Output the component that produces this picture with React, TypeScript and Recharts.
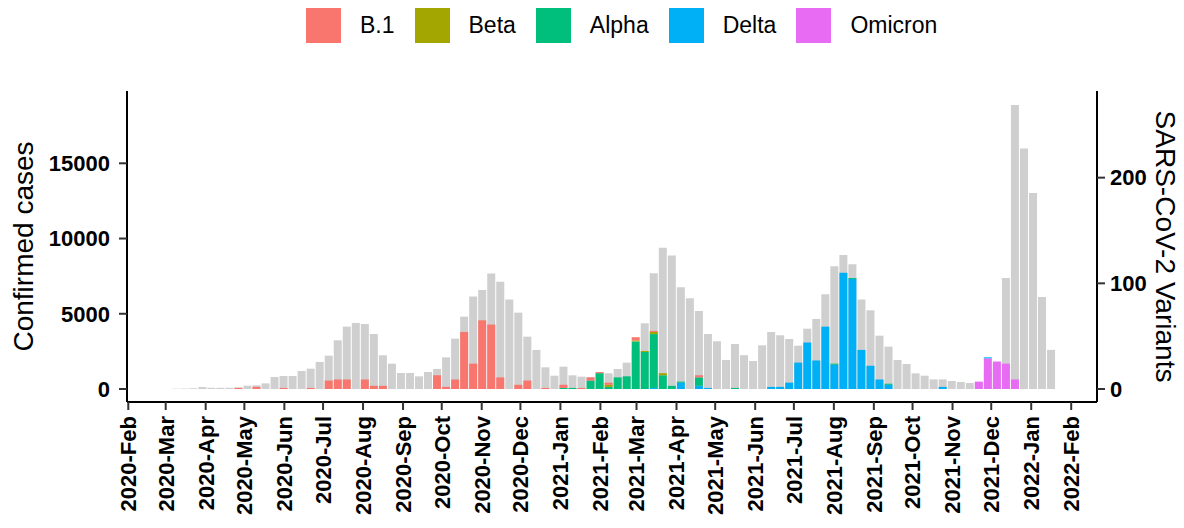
import React from 'react'
import { ComposedChart, Bar, XAxis, YAxis } from 'recharts'

// weekly bars, first week starts 2020-03-08
const firstWeek = '2020-03-08'

const cases = [
  20, 30, 50, 130, 80, 80, 80, 110, 220, 245,
  375, 800, 865, 865, 1200, 1350, 1800, 2215, 3235, 4145,
  4390, 4320, 3655, 2240, 1685, 1065, 1065, 840, 1130, 1330,
  2105, 3345, 4810, 6140, 6580, 7670, 7135, 5940, 5075, 3480,
  2595, 1440, 885, 1485, 910, 820, 800, 1100, 1043, 1330,
  1750, 2600, 4365, 7690, 9395, 8865, 6760, 6030, 5185, 3655,
  3170, 1930, 2990, 2250, 1860, 2905, 3790, 3570, 3325, 2880,
  4010, 4655, 6295, 8160, 8910, 8290, 5940, 5230, 3545, 2815,
  1930, 1660, 1040, 885, 640, 640, 530, 465, 400, 450,
  1200, 1600, 7380, 18880, 15980, 13030, 6115, 2600,
]

const b1 = [
  0, 0, 0, 0, 0, 0, 0, 1, 0, 2,
  0, 0, 1, 0, 0, 1, 0, 8, 9, 9,
  0, 9, 3, 3, 0, 0, 0, 0, 0, 13,
  2, 9, 54, 24, 65, 61, 11, 0, 4, 8,
  0, 1, 0, 3, 0, 1, 3, 1, 2, 0,
  0, 3, 0, 1, 0, 0, 0, 0, 2, 0,
  0, 0, 0, 0, 0, 0, 0, 0, 0, 0,
  0, 0, 0, 0, 0, 0, 0, 0, 0, 0,
  0, 0, 0, 0, 0, 0, 0, 0, 0, 0,
  0, 0, 0, 0, 0, 0, 0, 0,
]

const beta = [
  0, 0, 0, 0, 0, 0, 0, 0, 0, 0,
  0, 0, 0, 0, 0, 0, 0, 0, 0, 0,
  0, 0, 0, 0, 0, 0, 0, 0, 0, 0,
  0, 0, 0, 0, 0, 0, 0, 0, 0, 0,
  0, 0, 0, 0, 0, 0, 0, 0, 2, 0,
  0, 1, 1, 2, 2, 0, 0, 0, 0, 0,
  0, 0, 0, 0, 0, 0, 0, 0, 0, 0,
  0, 0, 0, 0, 0, 0, 0, 0, 0, 0,
  0, 0, 0, 0, 0, 0, 0, 0, 0, 0,
  0, 0, 0, 0, 0, 0, 0, 0,
]

const alpha = [
  0, 0, 0, 0, 0, 0, 0, 0, 0, 0,
  0, 0, 0, 0, 0, 0, 0, 0, 0, 0,
  0, 0, 0, 0, 0, 0, 0, 0, 0, 0,
  0, 0, 0, 0, 0, 0, 0, 0, 0, 0,
  0, 0, 0, 1, 1, 0, 8, 15, 2, 11,
  12, 45, 35, 51, 13, 3, 1, 0, 8, 0,
  0, 0, 1, 0, 0, 0, 0, 0, 0, 0,
  0, 0, 0, 1, 0, 1, 0, 0, 0, 1,
  0, 0, 0, 0, 0, 0, 0, 0, 0, 0,
  0, 0, 0, 0, 0, 0, 0, 0,
]

const delta = [
  0, 0, 0, 0, 0, 0, 0, 0, 0, 0,
  0, 0, 0, 0, 0, 0, 0, 0, 0, 0,
  0, 0, 0, 0, 0, 0, 0, 0, 0, 0,
  0, 0, 0, 0, 0, 0, 0, 0, 0, 0,
  0, 0, 0, 0, 0, 0, 0, 0, 0, 0,
  0, 0, 0, 1, 0, 0, 6, 0, 3, 1,
  0, 0, 0, 0, 0, 0, 2, 2, 6, 25,
  44, 27, 59, 23, 110, 104, 37, 22, 9, 4,
  0, 0, 0, 0, 0, 2, 0, 0, 0, 0,
  1, 0, 0, 0, 0, 0, 0, 0,
]

const omicron = [
  0, 0, 0, 0, 0, 0, 0, 0, 0, 0,
  0, 0, 0, 0, 0, 0, 0, 0, 0, 0,
  0, 0, 0, 0, 0, 0, 0, 0, 0, 0,
  0, 0, 0, 0, 0, 0, 0, 0, 0, 0,
  0, 0, 0, 0, 0, 0, 0, 0, 0, 0,
  0, 0, 0, 0, 0, 0, 0, 0, 0, 0,
  0, 0, 0, 0, 0, 0, 0, 0, 0, 0,
  0, 0, 0, 0, 0, 0, 0, 0, 0, 0,
  0, 0, 0, 0, 0, 0, 0, 0, 0, 7,
  29, 26, 24, 9, 0, 0, 0, 0,
]

const monthTicks = [
  '2020-02', '2020-03', '2020-04', '2020-05', '2020-06', '2020-07', '2020-08',
  '2020-09', '2020-10', '2020-11', '2020-12', '2021-01', '2021-02', '2021-03',
  '2021-04', '2021-05', '2021-06', '2021-07', '2021-08', '2021-09', '2021-10',
  '2021-11', '2021-12', '2022-01', '2022-02',
]
const monthNames = ['Jan', 'Feb', 'Mar', 'Apr', 'May', 'Jun', 'Jul', 'Aug', 'Sep', 'Oct', 'Nov', 'Dec']

const variants = [
  { key: 'b1', name: 'B.1', color: '#F8766D' },
  { key: 'beta', name: 'Beta', color: '#A3A500' },
  { key: 'alpha', name: 'Alpha', color: '#00BF7D' },
  { key: 'delta', name: 'Delta', color: '#00B0F6' },
  { key: 'omicron', name: 'Omicron', color: '#E76BF3' },
]

const DAY = 86400000
const FONT = '"Liberation Sans", Arial, Helvetica, sans-serif'

const start = Date.parse(firstWeek + 'T00:00:00Z')
const data = cases.map((c, i) => ({
  t: start + i * 7 * DAY,
  cases: c,
  b1: b1[i],
  beta: beta[i],
  alpha: alpha[i],
  delta: delta[i],
  omicron: omicron[i],
}))

const tickValues = monthTicks.map((m) => Date.parse(m + '-01T00:00:00Z'))

function fmtMonth(v: number) {
  const d = new Date(v)
  return `${d.getUTCFullYear()}-${monthNames[d.getUTCMonth()]}`
}

function DateTick(props: any) {
  const { x, y, payload } = props
  return (
    <text
      x={x}
      y={y}
      transform={`rotate(-90 ${x} ${y})`}
      textAnchor="end"
      dy="0.36em"
      fontSize={22}
      fontWeight="bold"
      fontFamily={FONT}
      fill="#000"
    >
      {fmtMonth(payload.value)}
    </text>
  )
}

function AxisTitle(props: any) {
  const { viewBox, value, side } = props
  const vb = viewBox || { x: 0, y: 91, width: 127, height: 311 }
  const cy = vb.y + vb.height / 2
  const cx = side === 'left' ? vb.x + 23 : vb.x + 69
  const angle = side === 'left' ? -90 : 90
  return (
    <text
      x={cx}
      y={cy}
      transform={`rotate(${angle} ${cx} ${cy})`}
      textAnchor="middle"
      dy="0.36em"
      fontSize={28}
      fontFamily={FONT}
      fill="#000"
    >
      {value}
    </text>
  )
}

const tickStyle = { fill: '#000', fontSize: 22, fontWeight: 'bold', fontFamily: FONT }
const axisLine = { stroke: '#000', strokeWidth: 2 }
const tickLine = { stroke: '#333', strokeWidth: 2 }

export default function App() {
  return (
    <div style={{ position: 'absolute', left: 0, top: 0, width: 1184, height: 528, background: '#fff' }}>
      <div
        style={{
          position: 'absolute',
          top: 8,
          left: 306,
          display: 'flex',
          alignItems: 'center',
          fontFamily: FONT,
          fontSize: 23,
          color: '#000',
        }}
      >
        {variants.map((v) => (
          <div key={v.key} style={{ display: 'flex', alignItems: 'center', marginRight: 20 }}>
            <div style={{ width: 35, height: 35, background: v.color }} />
            <span style={{ marginLeft: 19 }}>{v.name}</span>
          </div>
        ))}
      </div>
      <ComposedChart
        width={1184}
        height={528}
        data={data}
        margin={{ top: 91, right: 0, bottom: 0, left: 0 }}
        barGap={-8}
      >
        <XAxis
          dataKey="t"
          type="number"
          domain={[Date.UTC(2020, 0, 31), Date.UTC(2022, 1, 21)]}
          allowDataOverflow
          ticks={tickValues}
          interval={0}
          height={126}
          tickSize={8}
          tickMargin={6}
          tick={<DateTick />}
          axisLine={axisLine}
          tickLine={tickLine}
        />
        <YAxis
          yAxisId="left"
          type="number"
          domain={[-864, 19805]}
          allowDataOverflow
          ticks={[0, 5000, 10000, 15000]}
          interval={0}
          width={127}
          tickSize={8}
          tickMargin={9}
          tick={tickStyle}
          axisLine={axisLine}
          tickLine={tickLine}
          label={<AxisTitle side="left" value="Confirmed cases" />}
        />
        <YAxis
          yAxisId="right"
          orientation="right"
          type="number"
          domain={[-12.3, 282]}
          allowDataOverflow
          ticks={[0, 100, 200]}
          interval={0}
          width={87}
          tickSize={8}
          tickMargin={5}
          tick={tickStyle}
          axisLine={axisLine}
          tickLine={tickLine}
          label={<AxisTitle side="right" value="SARS-CoV-2 Variants" />}
        />
        <Bar yAxisId="left" dataKey="cases" fill="#cfcfcf" barSize={8} isAnimationActive={false} />
        {variants
          .slice()
          .reverse()
          .map((v) => (
            <Bar
              key={v.key}
              yAxisId="right"
              stackId="variants"
              dataKey={v.key}
              name={v.name}
              fill={v.color}
              barSize={8}
              isAnimationActive={false}
            />
          ))}
      </ComposedChart>
    </div>
  )
}
